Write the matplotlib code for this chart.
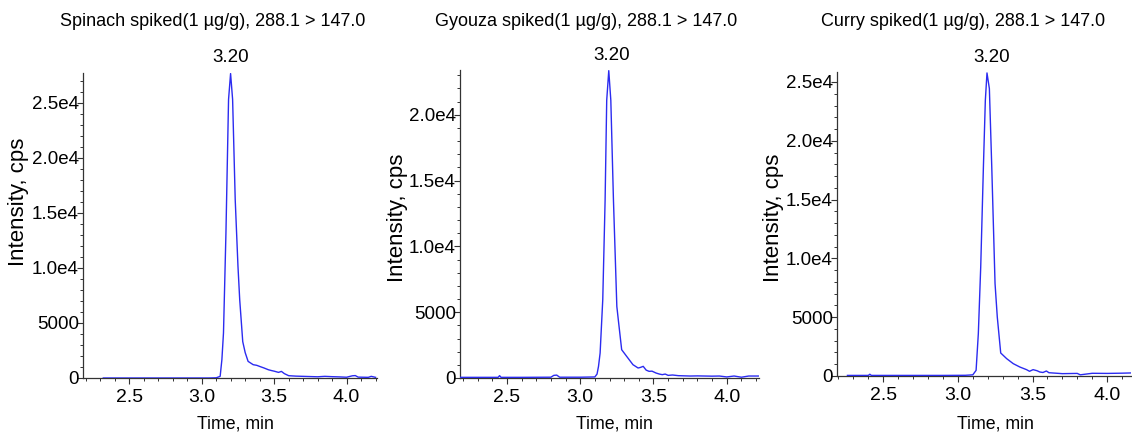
import matplotlib
matplotlib.use("Agg")
import matplotlib.pyplot as plt
from matplotlib.ticker import MultipleLocator, FuncFormatter

plt.rcParams['font.family'] = ['Liberation Sans', 'DejaVu Sans']

# ---------------- data ----------------
titles = ["Spinach spiked(1 \u00b5g/g), 288.1 > 147.0",
          "Gyouza spiked(1 \u00b5g/g), 288.1 > 147.0",
          "Curry spiked(1 \u00b5g/g), 288.1 > 147.0"]
peak_label = "3.20"

t_spinach = [2.32, 2.60, 2.90, 3.05, 3.10, 3.127, 3.139, 3.150, 3.167, 3.185, 3.199,
             3.213, 3.231, 3.250, 3.262, 3.283, 3.300, 3.320, 3.355, 3.38, 3.40, 3.43,
             3.46, 3.48, 3.50, 3.53, 3.55, 3.57, 3.60, 3.65, 3.70, 3.75, 3.80, 3.85,
             3.90, 3.95, 4.00, 4.04, 4.06, 4.08, 4.15, 4.17, 4.20]
i_spinach = [0, 0, 0, 0, 20, 150, 1667, 4090, 13180, 25300, 27650,
             25300, 16200, 10150, 7120, 3300, 2300, 1510, 1210, 1150, 1050, 909,
             750, 680, 620, 510, 600, 400, 210, 170, 150, 130, 110, 150,
             120, 100, 70, 200, 220, 80, 60, 150, 60]

t_gyouza = [2.18, 2.30, 2.44, 2.45, 2.46, 2.60, 2.80, 2.82, 2.84, 2.86, 3.00, 3.10,
            3.115, 3.125, 3.136, 3.154, 3.170, 3.181, 3.195, 3.209, 3.227, 3.250,
            3.260, 3.283, 3.317, 3.36, 3.395, 3.41, 3.43, 3.45, 3.47, 3.49, 3.517,
            3.54, 3.56, 3.58, 3.60, 3.63, 3.67, 3.75, 3.80, 3.85, 3.90, 3.95, 4.00,
            4.05, 4.10, 4.15, 4.22]
i_gyouza = [50, 50, 50, 180, 50, 50, 60, 200, 220, 60, 60, 80,
            300, 885, 1900, 5950, 13500, 21100, 23350, 21100, 13500, 5440,
            4430, 2150, 1645, 1012, 760, 800, 885, 600, 506, 520, 380,
            300, 253, 300, 200, 228, 177, 150, 160, 150, 140, 150, 80,
            150, 60, 150, 150]

t_curry = [2.26, 2.40, 2.41, 2.42, 2.60, 2.90, 3.05, 3.10, 3.122, 3.137, 3.153,
           3.171, 3.184, 3.195, 3.211, 3.227, 3.249, 3.264, 3.287, 3.327, 3.371,
           3.415, 3.46, 3.48, 3.504, 3.53, 3.549, 3.57, 3.593, 3.61, 3.638, 3.70,
           3.80, 3.82, 3.90, 4.00, 4.10, 4.16]
i_curry = [50, 50, 150, 50, 50, 50, 60, 100, 480, 3600, 9270,
           17775, 23445, 25770, 24440, 17775, 7850, 5020, 1956, 1474, 1050,
           765, 540, 400, 540, 450, 340, 300, 425, 280, 255, 200,
           220, 100, 230, 220, 240, 260]

series = [(t_spinach, i_spinach), (t_gyouza, i_gyouza), (t_curry, i_curry)]
xlims = [(2.18, 4.21), (2.18, 4.22), (2.19, 4.16)]
ylims = [(0, 27700), (0, 23400), (0, 25850)]

# ---------------- layout (pixels) ----------------
W, H = 1132, 441
axes_px = [(83, 377, 73, 378), (460, 759, 70, 378), (837, 1131, 72, 376)]
title_px = [(213, 22), (586, 22), (963, 22)]
peak_px = [(231, 58), (612, 55), (992, 58)]
xlab_px = [(235, 424), (614, 424), (995, 424)]
ylab_px = [(19, 202), (397, 218), (774, 218)]

fig = plt.figure(figsize=(W / 100, H / 100), dpi=100)
line_color = '#2b2bf0'
spine_color = '#333333'


def yfmt(v, pos):
    if v == 0:
        return '0'
    if v < 10000:
        return f'{int(round(v))}'
    return f'{v / 1e4:.1f}e4'


for k in range(3):
    l, r, t, b = axes_px[k]
    ax = fig.add_axes([l / W, 1 - b / H, (r - l) / W, (b - t) / H])
    tt, ii = series[k]
    ax.plot(tt, ii, color=line_color, lw=1.0, zorder=3)
    ax.set_xlim(*xlims[k])
    ax.set_ylim(*ylims[k])
    for s in ['top', 'right']:
        ax.spines[s].set_visible(False)
    for s in ['left', 'bottom']:
        ax.spines[s].set_color(spine_color)
        ax.spines[s].set_linewidth(0.9)
    ax.xaxis.set_major_locator(MultipleLocator(0.5))
    ax.xaxis.set_minor_locator(MultipleLocator(0.1))
    ax.yaxis.set_major_locator(MultipleLocator(5000))
    ax.yaxis.set_minor_locator(MultipleLocator(1000))
    ax.xaxis.set_major_formatter(FuncFormatter(lambda v, p: f'{v:.1f}'))
    ax.yaxis.set_major_formatter(FuncFormatter(yfmt))
    ax.tick_params(axis='both', which='major', direction='out', length=4,
                   width=0.8, color=spine_color)
    ax.tick_params(axis='both', which='minor', direction='out', length=2,
                   width=0.7, color=spine_color)
    ax.tick_params(axis='x', which='major', labelsize=14, pad=4)
    ax.tick_params(axis='y', which='major', labelsize=13.5, pad=-1)

    fig.text(title_px[k][0] / W, 1 - title_px[k][1] / H, titles[k],
             ha='center', va='center', fontsize=13)
    fig.text(peak_px[k][0] / W, 1 - peak_px[k][1] / H, peak_label,
             ha='center', va='center', fontsize=13.5)
    fig.text(xlab_px[k][0] / W, 1 - xlab_px[k][1] / H, 'Time, min',
             ha='center', va='center', fontsize=12.8)
    fig.text(ylab_px[k][0] / W, 1 - ylab_px[k][1] / H, 'Intensity, cps',
             ha='center', va='center', rotation=90, fontsize=16)

fig.savefig('out.png', dpi=100)
